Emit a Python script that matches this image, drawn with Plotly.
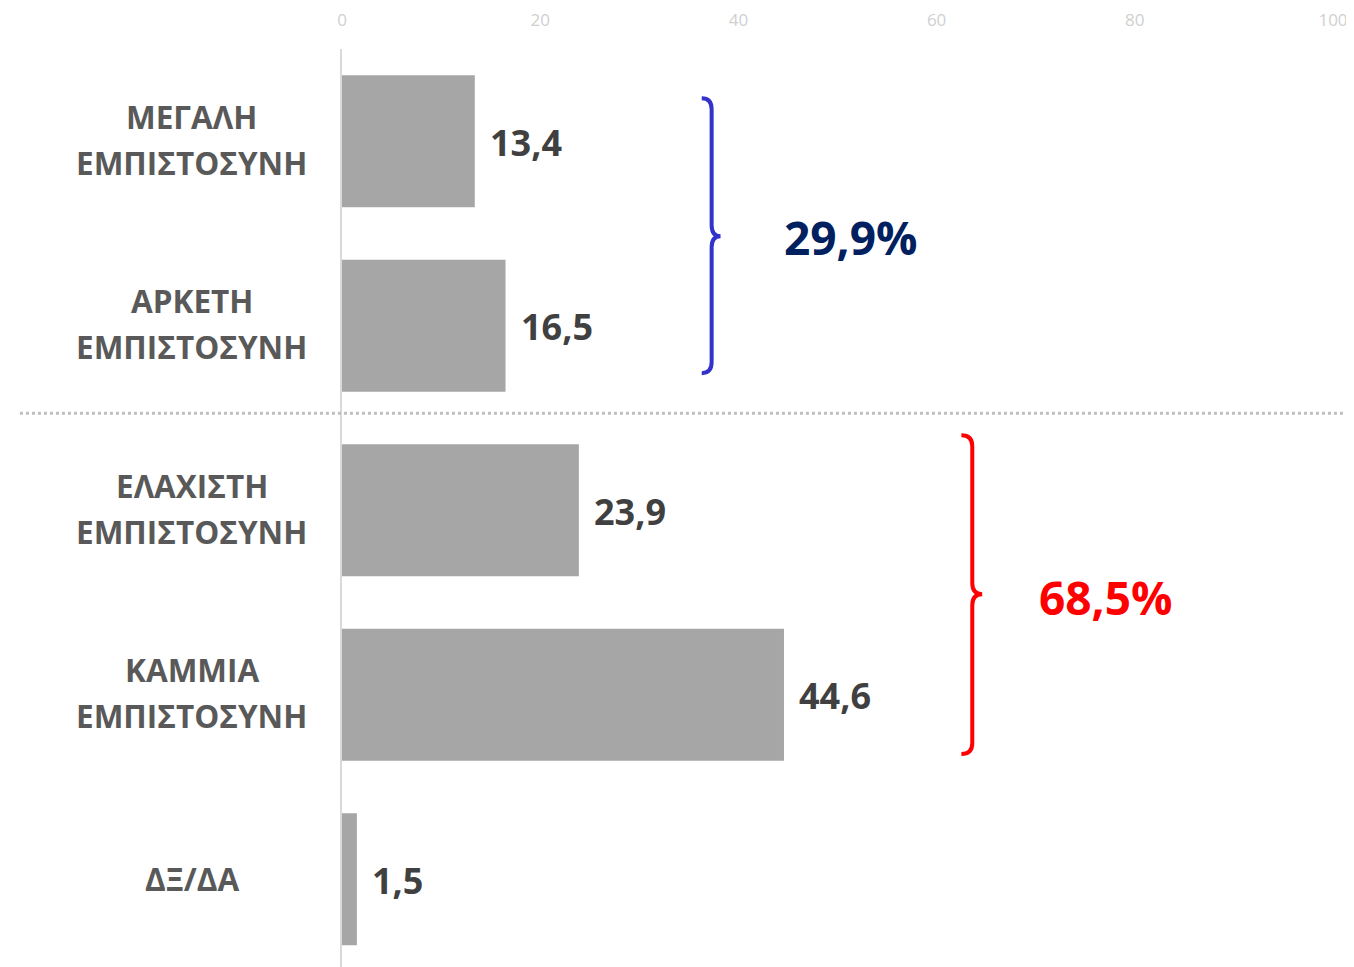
import plotly.graph_objects as go

categories = ["ΜΕΓΑΛΗ<br>ΕΜΠΙΣΤΟΣΥΝΗ", "ΑΡΚΕΤΗ<br>ΕΜΠΙΣΤΟΣΥΝΗ", "ΕΛΑΧΙΣΤΗ<br>ΕΜΠΙΣΤΟΣΥΝΗ",
              "ΚΑΜΜΙΑ<br>ΕΜΠΙΣΤΟΣΥΝΗ", "ΔΞ/ΔΑ"]
values = [13.4, 16.5, 23.9, 44.6, 1.5]
value_labels = ["13,4", "16,5", "23,9", "44,6", "1,5"]
group_labels = ["29,9%", "68,5%"]
tick_values = [0, 20, 40, 60, 80, 100]

FONT = "Open Sans"
pos = list(range(len(categories)))

fig = go.Figure()
fig.add_trace(go.Bar(
    x=values, y=pos, orientation="h", width=0.715,
    marker=dict(color="#A6A6A6", line=dict(width=0)),
    hoverinfo="skip", showlegend=False,
))

annotations = []
for i, cat in enumerate(categories):
    lines = cat.split("<br>")
    n = len(lines)
    for j, ln in enumerate(lines):
        shift = (j - (n - 1) / 2) * 46
        annotations.append(dict(
            x=-0.1514, xref="paper", y=pos[i], yref="y", text=ln,
            showarrow=False, xanchor="center", yanchor="middle",
            yshift=-shift + 2 + (-1 if n == 1 else 0),
            font=dict(family=FONT, size=31.5, color="#595959", weight="bold"),
        ))
for i, (v, t) in enumerate(zip(values, value_labels)):
    annotations.append(dict(
        x=v, xref="x", y=pos[i], yref="y", text=t, showarrow=False,
        xanchor="left", yanchor="middle", xshift=13, yshift=-1,
        font=dict(family=FONT, size=36, color="#404040", weight="bold"),
    ))
annotations.append(dict(x=51.3, y=0.52, xref="x", yref="y", text=group_labels[0],
                        showarrow=False, xanchor="center", yanchor="middle",
                        font=dict(family=FONT, size=46, color="#002060", weight="bold")))
annotations.append(dict(x=77.0, y=2.47, xref="x", yref="y", text=group_labels[1],
                        showarrow=False, xanchor="center", yanchor="middle",
                        font=dict(family=FONT, size=46, color="#FF0000", weight="bold")))


def brace(x_hook, x_stem, x_tip, y_top, y_tip, y_bot, r):
    return (f"M {x_hook} {y_top} Q {x_stem} {y_top} {x_stem} {y_top + r} "
            f"L {x_stem} {y_tip - r} Q {x_stem} {y_tip} {x_tip} {y_tip} "
            f"Q {x_stem} {y_tip} {x_stem} {y_tip + r} "
            f"L {x_stem} {y_bot - r} Q {x_stem} {y_bot} {x_hook} {y_bot}")


shapes = [
    dict(type="line", xref="paper", yref="y", x0=-0.325, x1=1.03, y0=1.474, y1=1.474,
         line=dict(color="#BFBFBF", width=3, dash="dot")),
    dict(type="path", xref="x", yref="y",
         path=brace(36.3, 37.3, 38.2, -0.233, 0.515, 1.257, 0.06),
         line=dict(color="#3333CC", width=4)),
    dict(type="path", xref="x", yref="y",
         path=brace(62.5, 63.6, 64.6, 1.593, 2.455, 3.322, 0.06),
         line=dict(color="#FF0000", width=4)),
]

fig.update_layout(
    width=1346, height=959,
    margin=dict(l=334, r=21, t=41, b=0),
    paper_bgcolor="white", plot_bgcolor="white",
    annotations=annotations, shapes=shapes,
    xaxis=dict(range=[0, 100], side="top", tickvals=tick_values,
               showgrid=False, zeroline=False, showline=False, ticks="",
               ticklabelstandoff=19, ticklabeloverflow="allow",
               tickfont=dict(family=FONT, size=17, color="#D0D0D0")),
    yaxis=dict(range=[4.476, -0.5], showticklabels=False, showgrid=False, zeroline=False,
               showline=True, linecolor="#D9D9D9", linewidth=2, ticks=""),
)

fig.write_html("out.html")
